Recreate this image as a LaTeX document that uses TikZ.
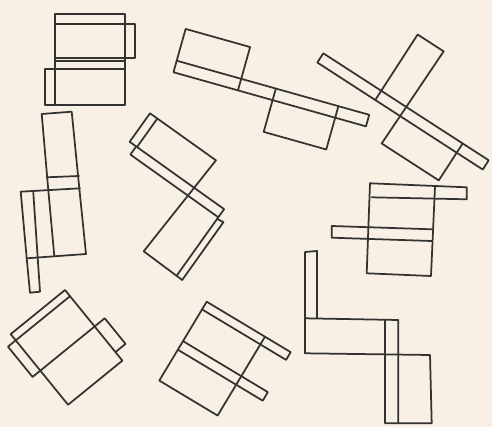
\documentclass[tikz,border=0pt]{standalone}
\definecolor{paper}{HTML}{F8F0E5}
\definecolor{ink}{HTML}{333331}
\tikzset{sk/.style={draw=ink, line width=1.75pt, line join=round, line cap=round}}
\begin{document}
\begin{tikzpicture}[x=1pt,y=-1pt]
\fill[paper] (0,0) rectangle (492,427);
\useasboundingbox (0,0) rectangle (492,427);
% group 1 top-left
\draw[sk] (55,14) rectangle (125,105);
\draw[sk] (55,24) -- (135,24) -- (135,58) -- (55,58);
\draw[sk] (55,61) -- (125,61);
\draw[sk] (125,69) -- (45,69) -- (45,105) -- (55,105);
% group 4 left middle
\draw[sk] (41.7,114) -- (71.7,111.7) -- (79.3,188.3) -- (86,254) -- (26.7,258.3) -- (20.7,191.7) -- (80,188.3);
\draw[sk] (41.7,114) -- (48.3,190) -- (54.3,256);
\draw[sk] (46.7,177.3) -- (79,176);
\draw[sk] (33.3,192.7) -- (40,291.7) -- (30,292.7) -- (26.7,258.3);
% group 2 top middle
\begin{scope}[shift={(176.7,60.7)}, rotate=-15.7]
\draw[sk] (0,0) rectangle (200,12);
\draw[sk] (0,0) -- (0,-33) -- (67,-33) -- (67,12);
\draw[sk] (103,0) -- (103,45) -- (168,45) -- (168,0);
\end{scope}
% group 3 top right
\begin{scope}[shift={(323.3,53.3)}, rotate=-32.9]
\draw[sk] (0,0) rectangle (197,11);
\draw[sk] (69,11) -- (69,-67) -- (100,-67) -- (98,44) -- (166,44) -- (166,0);
\end{scope}
% group 5 middle
\begin{scope}[shift={(150,113.3)}, rotate=-35.5]
\draw[sk] (0,35) -- (0,0) -- (81,0) -- (75,116);
\draw[sk] (9,0) -- (9,35);
\draw[sk] (0,35) -- (116,35) -- (116,116);
\draw[sk] (8,35) -- (8,45) -- (116,45);
\draw[sk] (116,47) -- (123,46) -- (123,117) -- (75,116);
\end{scope}
% group 6 right middle
\draw[sk] (370,183.3) -- (366.7,273.3) -- (431,276) -- (435,186.7);
\draw[sk] (370,183.3) -- (466.7,187.3) -- (466.7,199.3) -- (371.7,197.3);
\draw[sk] (431.7,229.3) -- (331.7,226) -- (331.7,237.7) -- (431.7,241);
% group 7 bottom left
\begin{scope}[shift={(65,290)}, rotate=-50.9]
\draw[sk] (0,0) rectangle (91,70);
\draw[sk] (8,0) -- (8,80) -- (47,80) -- (47,-13) -- (80,-13) -- (80,0);
\end{scope}
% group 8 bottom middle
\begin{scope}[shift={(206.7,301.7)}, rotate=-31]
\draw[sk] (0,0) rectangle (68,92);
\draw[sk] (68,0) -- (98,0) -- (98,9) -- (0,9);
\draw[sk] (0,46) -- (99,46) -- (99,56) -- (0,56);
\end{scope}
% group 9 bottom right
\draw[sk] (305,353.3) -- (305,252) -- (317,251) -- (317,318.5);
\draw[sk] (305,318.3) -- (398.3,320) -- (398.3,423.3);
\draw[sk] (305,353.3) -- (430,355) -- (431.7,423.3) -- (385,423.3) -- (385,320);
\end{tikzpicture}
\end{document}
